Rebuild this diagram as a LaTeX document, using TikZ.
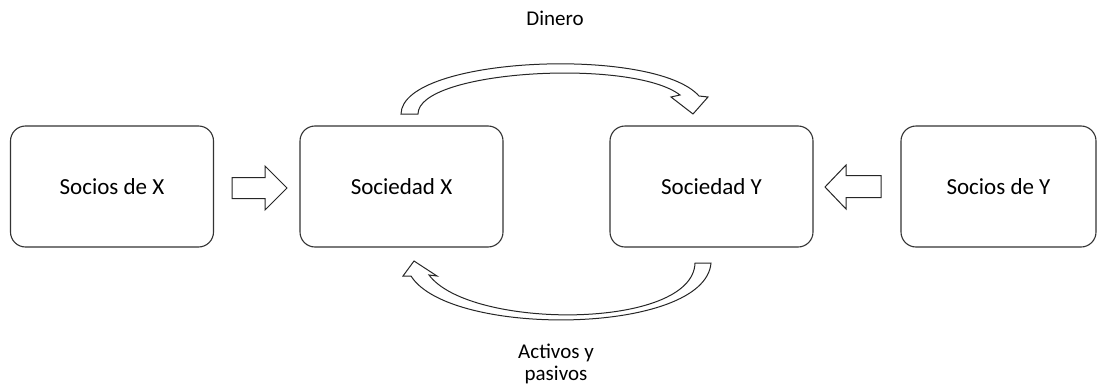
\documentclass[tikz,border=0pt]{standalone}
\usepackage{fontspec}
\setmainfont{Carlito}
\begin{document}
\begin{tikzpicture}[x=1pt,y=-1pt,
  party/.style={draw=black!80, line width=1.1pt, rounded corners=15pt,
    minimum height=121pt, inner sep=0pt, font=\fontsize{23}{27}\selectfont},
  flow/.style={draw=black!85, line width=1pt, fill=white, line join=miter},
  tag/.style={font=\fontsize{21}{23}\selectfont, align=center, inner sep=0pt}]
\useasboundingbox (0,0) rectangle (1097,388);

% the four parties
\node[party, minimum width=203pt] (sx) at (112,186.5) {Socios de X};
\node[party, minimum width=203pt] (x)  at (401.5,186.5) {Sociedad X};
\node[party, minimum width=203pt] (y)  at (711.5,186.5) {Sociedad Y};
\node[party, minimum width=195pt] (sy) at (998.5,186.5) {Socios de Y};

% block arrows from the partners into each company
\draw[flow] (232,177.5) -- (265,177.5) -- (265,166) -- (287,188) -- (265,210)
  -- (265,198.5) -- (232,198.5) -- cycle;
\draw[flow] (881,175.5) -- (846,175.5) -- (846,165) -- (825,187) -- (846,209)
  -- (846,197.5) -- (881,197.5) -- cycle;

% money: Sociedad X -> Sociedad Y (over the top)
\draw[flow] (401,114) .. controls (402,56) and (655,46) .. (699,96)
  -- (708,97) -- (693,114) -- (671,97) -- (680,95)
  .. controls (632,58) and (418,70) .. (418,114) -- cycle;

% assets and liabilities: Sociedad Y -> Sociedad X (underneath)
\draw[flow] (695,263) -- (711,263) .. controls (705,335) and (450,338) .. (411,276)
  -- (403,276) -- (414,261) -- (437,276) -- (429,275)
  .. controls (470,330) and (693,330) .. (695,263) -- cycle;

% labels
\node[tag] (dinero) at (555,18.5) {Dinero};
\node[tag] (activos) at (556,364) {Activos y\\[-1pt]pasivos};
\end{tikzpicture}
\end{document}
